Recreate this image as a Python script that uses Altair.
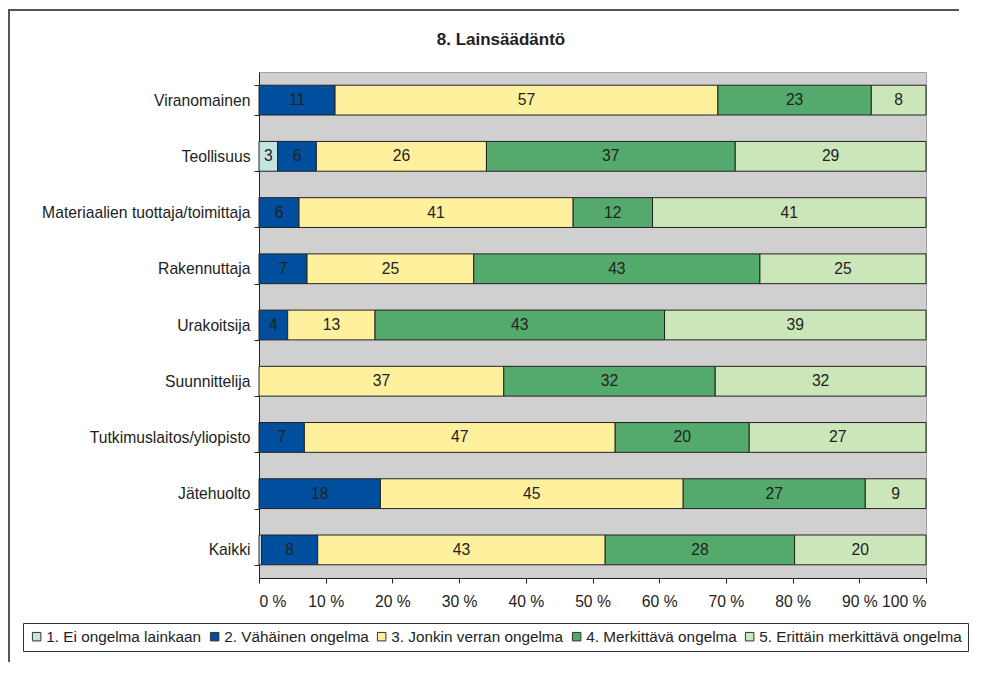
import altair as alt
import pandas as pd

rows = ["Viranomainen", "Teollisuus", "Materiaalien tuottaja/toimittaja", "Rakennuttaja",
        "Urakoitsija", "Suunnittelija", "Tutkimuslaitos/yliopisto", "Jätehuolto", "Kaikki"]
cats = ["1. Ei ongelma lainkaan", "2. Vähäinen ongelma", "3. Jonkin verran ongelma",
        "4. Merkittävä ongelma", "5. Erittäin merkittävä ongelma"]
c1 = [0.0, 2.8, 0.0, 0.0, 0.0, 0.0, 0.0, 0.0, 0.4]
c2 = [11.4, 5.8, 6.0, 7.2, 4.3, 0.0, 6.8, 18.2, 8.4]
c3 = [57.4, 25.5, 41.1, 25.0, 13.1, 36.7, 46.6, 45.4, 43.1]
c4 = [23.0, 37.3, 11.9, 42.9, 43.4, 31.7, 20.1, 27.3, 28.4]
c5 = [8.2, 28.6, 41.0, 24.9, 39.2, 31.6, 26.5, 9.1, 19.7]
colors = ["#c4e4e2", "#004f9f", "#fff09e", "#54aa6c", "#cbe6b9"]
x_ticks = [0, 10, 20, 30, 40, 50, 60, 70, 80, 90, 100]
title_text = "8. Lainsäädäntö"

recs = []
for ci, (cat, vals) in enumerate(zip(cats, [c1, c2, c3, c4, c5])):
    for r, v in zip(rows, vals):
        if v > 0:
            recs.append({"row": r, "cat": cat, "ci": ci, "v": v})
df = pd.DataFrame(recs)

FONT = "Liberation Sans"
FS = 15.7

base = alt.Chart(df).transform_stack(
    stack="v", groupby=["row"], as_=["x0", "x1"],
    sort=[alt.SortField("ci", order="ascending")]
).transform_calculate(mid="(datum.x0 + datum.x1) / 2")

yenc = alt.Y("row:N", sort=rows,
             scale=alt.Scale(paddingInner=0.47, paddingOuter=0.235),
             axis=alt.Axis(title=None, labelFontSize=FS, labelColor="#222", labelFont=FONT,
                           tickBand="extent", tickSize=5, tickColor="#222",
                           domainColor="#222", labelPadding=4, labelLimit=400))

bars = base.mark_bar(stroke="#222", strokeWidth=1).encode(
    y=yenc,
    x=alt.X("x0:Q", scale=alt.Scale(domain=[0, 100], nice=False),
            axis=alt.Axis(title=None, values=x_ticks, labelExpr="datum.value + ' %'",
                          labelFontSize=FS, labelColor="#222", labelFont=FONT,
                          tickSize=5, tickColor="#222", domainColor="#222",
                          labelPadding=11, grid=False)),
    x2="x1:Q",
    color=alt.Color("cat:N", sort=cats, scale=alt.Scale(domain=cats, range=colors),
                    legend=alt.Legend(title=None, orient="none", legendX=-236, legendY=551,
                                      direction="horizontal", columns=5,
                                      symbolType="square", symbolSize=72,
                                      symbolStrokeColor="#333", symbolStrokeWidth=1,
                                      labelFontSize=15.3, labelFont=FONT, labelColor="#222",
                                      labelOffset=2, columnPadding=5, padding=6,
                                      strokeColor="#333", fillColor="white",
                                      labelLimit=400)),
)

labels = base.transform_filter("datum.v >= 1").mark_text(
    fontSize=FS, color="#222", font=FONT
).encode(
    y=alt.Y("row:N", sort=rows),
    x=alt.X("mid:Q"),
    text=alt.Text("v:Q", format=".0f"),
)

one = pd.DataFrame({"t": [title_text]})

frame_top = alt.Chart(one).mark_rule(color="#555", strokeWidth=2).encode(
    x=alt.value(-251), x2=alt.value(700), y=alt.value(-62))
frame_left = alt.Chart(one).mark_rule(color="#555", strokeWidth=2).encode(
    x=alt.value(-250), y=alt.value(-63), y2=alt.value(590))

title = alt.Chart(one).mark_text(
    fontSize=17, fontWeight="bold", font=FONT, color="#222", align="center",
    baseline="alphabetic"
).encode(x=alt.value(242), y=alt.value(-27), text="t:N")

chart = alt.layer(frame_top, frame_left, bars, labels, title).properties(
    width=667, height=506,
    padding={"left": 251, "top": 64, "right": 60, "bottom": 98},
    autosize="none",
).configure_view(fill="#d0d0d0", stroke="#a0a0a0")

chart.save("out.html", embed_options={"renderer": "svg", "actions": False})
